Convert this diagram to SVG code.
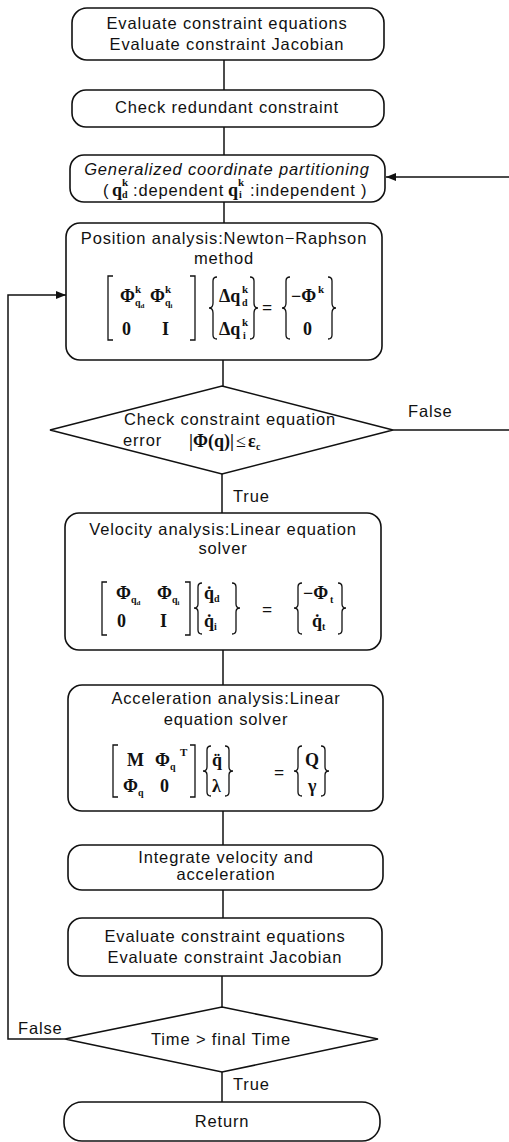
<svg xmlns="http://www.w3.org/2000/svg" width="509" height="1142" viewBox="0 0 509 1142">
  <defs>
    <style>
      .box { fill: #fff; stroke: #111; stroke-width: 1.6; }
      .ln { fill: none; stroke: #111; stroke-width: 1.5; }
      .br { fill: none; stroke: #111; stroke-width: 1.3; }
      .t { font-family: "Liberation Sans", Arial, sans-serif; font-size: 16.5px; letter-spacing: 0.85px; fill: #111; }
      .c { text-anchor: middle; }
      .it { font-style: italic; }
      .m { font-family: "Liberation Serif", "Times New Roman", serif; font-weight: bold; font-size: 18px; fill: #111; }
      .sup { font-size: 11px; }
      .sub { font-size: 10px; }
      .ssub { font-size: 7px; }
    </style>
    <marker id="arrow" viewBox="0 0 10 8" refX="10" refY="4" markerWidth="10" markerHeight="8" markerUnits="userSpaceOnUse" orient="auto">
      <path d="M0,0 L10,4 L0,8 Z" fill="#111"/>
    </marker>
  </defs>

  <rect width="509" height="1142" fill="#fff"/>

  <!-- connectors -->
  <g id="connectors">
    <path class="ln" d="M224,60 V90"/>
    <path class="ln" d="M224,127 V155"/>
    <path class="ln" d="M224,202 V223"/>
    <path class="ln" d="M223,360 V386"/>
    <path class="ln" d="M222,474 V513"/>
    <path class="ln" d="M223,650 V685"/>
    <path class="ln" d="M223,811 V845"/>
    <path class="ln" d="M223,890 V918"/>
    <path class="ln" d="M222,976 V1007"/>
    <path class="ln" d="M222,1072 V1102"/>
    <!-- error check false: back to partitioning -->
    <path class="ln" d="M393,430 H511 V177 H386" marker-end="url(#arrow)"/>
    <!-- time check false: back to position analysis -->
    <path class="ln" d="M65,1039 H8 V295 H66" marker-end="url(#arrow)"/>
    <text class="t" x="408" y="417">False</text>
    <text class="t" x="233" y="502">True</text>
    <text class="t" x="18" y="1034">False</text>
    <text class="t" x="233" y="1090">True</text>
  </g>

  <!-- start: evaluate constraints -->
  <g id="eval1">
    <rect class="box" x="72" y="8" width="312" height="52" rx="15"/>
    <text class="t c" x="227" y="29">Evaluate constraint equations</text>
    <text class="t c" x="227" y="50">Evaluate constraint Jacobian</text>
  </g>

  <g id="redundant">
    <rect class="box" x="72" y="90" width="312" height="37" rx="14"/>
    <text class="t c" x="227" y="113">Check redundant constraint</text>
  </g>

  <g id="partition">
    <rect class="box" x="70" y="155" width="315" height="47" rx="14"/>
    <text class="t c it" x="227" y="175">Generalized coordinate partitioning</text>
    <text class="t" x="103" y="196">(</text>
    <text class="m" x="112" y="196">q</text>
    <text class="m sup" x="122" y="186">k</text>
    <text class="m sub" x="122" y="198">d</text>
    <text class="t" x="133" y="196">:dependent</text>
    <text class="m" x="228" y="196">q</text>
    <text class="m sup" x="238" y="186">k</text>
    <text class="m sub" x="239" y="198">i</text>
    <text class="t" x="250" y="196">:independent )</text>
  </g>

  <g id="position">
    <rect class="box" x="66" y="223" width="316" height="137" rx="14"/>
    <text class="t c" x="224" y="244">Position analysis:Newton−Raphson</text>
    <text class="t c" x="224" y="264">method</text>
    <!-- Jacobian block matrix -->
    <path class="br" d="M113,276 H108 V340 H113"/>
    <path class="br" d="M190,276 H195 V340 H190"/>
    <text class="m" x="120" y="302">Φ</text>
    <text class="m sup" x="135" y="293">k</text>
    <text class="m sub" x="135" y="306">q<tspan class="ssub" dy="2">d</tspan></text>
    <text class="m" x="150" y="302">Φ</text>
    <text class="m sup" x="165" y="293">k</text>
    <text class="m sub" x="165" y="306">q<tspan class="ssub" dy="2">i</tspan></text>
    <text class="m" x="122" y="335">0</text>
    <text class="m" x="162" y="335">I</text>
    <!-- increment vector -->
    <path class="br" d="M217,277 Q213,277 213,281 V303 Q213,308 209,308 Q213,308 213,313 V335 Q213,339 217,339"/>
    <text class="m" x="219" y="302">Δq</text>
    <text class="m sup" x="242" y="293">k</text>
    <text class="m sub" x="242" y="306">d</text>
    <text class="m" x="219" y="335">Δq</text>
    <text class="m sup" x="242" y="326">k</text>
    <text class="m sub" x="243" y="339">i</text>
    <path class="br" d="M250,277 Q254,277 254,281 V303 Q254,308 258,308 Q254,308 254,313 V335 Q254,339 250,339"/>
    <text class="m" x="262" y="314">=</text>
    <!-- right side -->
    <path class="br" d="M290,277 Q286,277 286,281 V303 Q286,308 282,308 Q286,308 286,313 V335 Q286,339 290,339"/>
    <text class="m" x="291" y="302">−Φ</text>
    <text class="m sup" x="318" y="293">k</text>
    <text class="m" x="303" y="335">0</text>
    <path class="br" d="M328,277 Q332,277 332,281 V303 Q332,308 336,308 Q332,308 332,313 V335 Q332,339 328,339"/>
  </g>

  <g id="errorCheck">
    <polygon class="box" points="222,386 393,430 222,474 50,430"/>
    <text class="t c" x="230" y="425">Check constraint equation</text>
    <text class="t" x="123" y="446">error</text>
    <text class="m" x="189" y="447">|Φ(q)|</text>
    <text class="m" style="font-weight:normal" x="236" y="447">≤</text>
    <text class="m" x="248" y="447">ε</text>
    <text class="m sub" x="256" y="450">c</text>
  </g>

  <g id="velocity">
    <rect class="box" x="65" y="513" width="316" height="137" rx="14"/>
    <text class="t c" x="223" y="535">Velocity analysis:Linear equation</text>
    <text class="t c" x="223" y="554">solver</text>
    <path class="br" d="M107,582 H102 V635 H107"/>
    <path class="br" d="M185,582 H190 V635 H185"/>
    <text class="m" x="116" y="599">Φ</text>
    <text class="m sub" x="131" y="603">q<tspan class="ssub" dy="2">d</tspan></text>
    <text class="m" x="157" y="599">Φ</text>
    <text class="m sub" x="172" y="603">q<tspan class="ssub" dy="2">i</tspan></text>
    <text class="m" x="117" y="627">0</text>
    <text class="m" x="160" y="627">I</text>
    <path class="br" d="M202,583 Q198,583 198,587 V604 Q198,608 194,608 Q198,608 198,612 V630 Q198,634 202,634"/>
    <text class="m" x="204" y="599">q̇</text>
    <text class="m sub" x="214" y="602">d</text>
    <text class="m" x="204" y="627">q̇</text>
    <text class="m sub" x="214" y="630">i</text>
    <path class="br" d="M232,583 Q236,583 236,587 V604 Q236,608 240,608 Q236,608 236,612 V630 Q236,634 232,634"/>
    <text class="m" x="262" y="616">=</text>
    <path class="br" d="M302,583 Q298,583 298,587 V604 Q298,608 294,608 Q298,608 298,612 V630 Q298,634 302,634"/>
    <text class="m" x="303" y="599">−Φ</text>
    <text class="m sub" x="330" y="603">t</text>
    <text class="m" x="312" y="627">q̇</text>
    <text class="m sub" x="322" y="630">t</text>
    <path class="br" d="M338,583 Q342,583 342,587 V604 Q342,608 346,608 Q342,608 342,612 V630 Q342,634 338,634"/>
  </g>

  <g id="acceleration">
    <rect class="box" x="68" y="685" width="315" height="126" rx="14"/>
    <text class="t c" x="226" y="704">Acceleration analysis:Linear</text>
    <text class="t c" x="226" y="725">equation solver</text>
    <path class="br" d="M118,745 H113 V797 H118"/>
    <path class="br" d="M190,745 H195 V797 H190"/>
    <text class="m" x="127" y="766">M</text>
    <text class="m" x="155" y="766">Φ</text>
    <text class="m sub" x="170" y="770">q</text>
    <text class="m sup" x="180" y="756">T</text>
    <text class="m" x="123" y="792">Φ</text>
    <text class="m sub" x="138" y="796">q</text>
    <text class="m" x="160" y="792">0</text>
    <path class="br" d="M211,746 Q207,746 207,750 V767 Q207,771 203,771 Q207,771 207,775 V792 Q207,796 211,796"/>
    <text class="m" x="212" y="766">q̈</text>
    <text class="m" x="212" y="792">λ</text>
    <path class="br" d="M225,746 Q229,746 229,750 V767 Q229,771 233,771 Q229,771 229,775 V792 Q229,796 225,796"/>
    <text class="m" x="274" y="779">=</text>
    <path class="br" d="M302,746 Q298,746 298,750 V767 Q298,771 294,771 Q298,771 298,775 V792 Q298,796 302,796"/>
    <text class="m" x="305" y="766">Q</text>
    <text class="m" x="308" y="792">γ</text>
    <path class="br" d="M321,746 Q325,746 325,750 V767 Q325,771 329,771 Q325,771 325,775 V792 Q325,796 321,796"/>
  </g>

  <g id="integrate">
    <rect class="box" x="68" y="845" width="315" height="45" rx="14"/>
    <text class="t c" x="226" y="863">Integrate velocity and</text>
    <text class="t c" x="226" y="880">acceleration</text>
  </g>

  <g id="eval2">
    <rect class="box" x="68" y="918" width="314" height="58" rx="14"/>
    <text class="t c" x="225" y="942">Evaluate constraint equations</text>
    <text class="t c" x="225" y="963">Evaluate constraint Jacobian</text>
  </g>

  <g id="timeCheck">
    <polygon class="box" points="222,1007 378,1039 222,1072 65,1039"/>
    <text class="t c" x="221" y="1045">Time &gt; final Time</text>
  </g>

  <g id="return">
    <rect class="box" x="64" y="1102" width="316" height="39" rx="18"/>
    <text class="t c" x="222" y="1127">Return</text>
  </g>
</svg>
